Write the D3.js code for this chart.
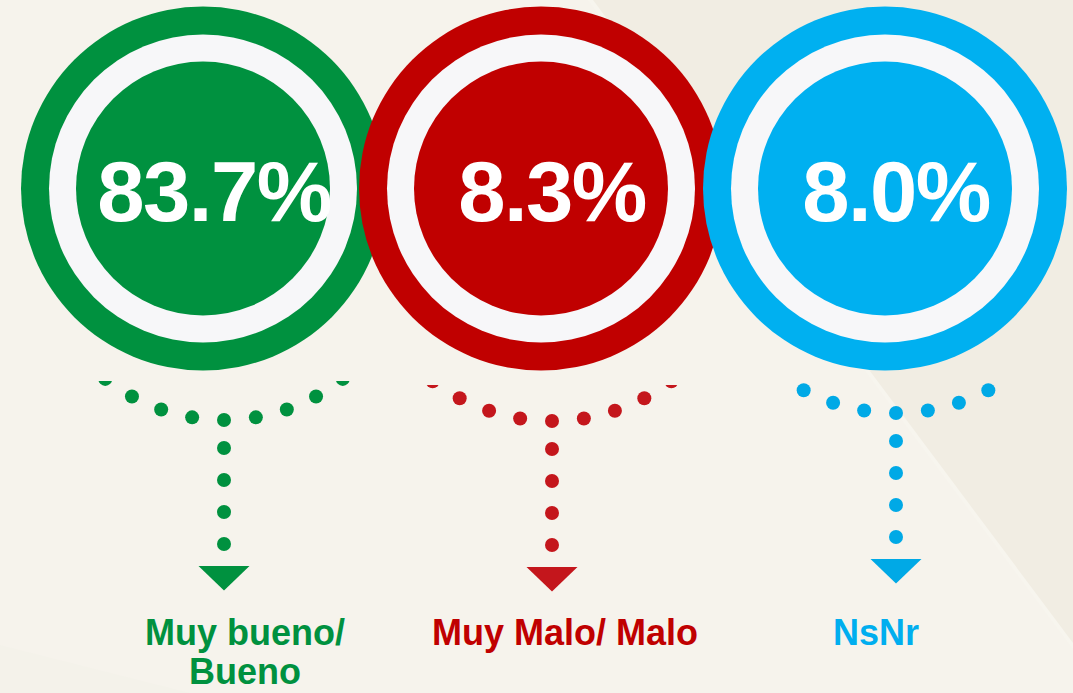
<!DOCTYPE html>
<html>
<head>
<meta charset="utf-8">
<script src="https://cdn.jsdelivr.net/npm/d3@7"></script>
<style>
  html, body { margin: 0; padding: 0; background: #f6f3ec; }
  svg { display: block; }
  text { font-family: "Liberation Sans", Arial, sans-serif; font-weight: bold; }
</style>
</head>
<body>
<script>

// data
var categories = ["Muy bueno/ Bueno", "Muy Malo/ Malo", "NsNr"];
var values = [83.7, 8.3, 8.0];
var labelLines = [["Muy bueno/", "Bueno"], ["Muy Malo/ Malo"], ["NsNr"]];
var ringColors = ["#00913f", "#c00000", "#00b0f0"];
var dotColors = ["#00913f", "#c4161c", "#00a9e6"];
var labelColors = ["#00913f", "#c00000", "#00aeef"];

var width = 1073,
    height = 693;

// layout
var circleX = d3.scaleOrdinal().domain(categories).range([203, 541, 885]),
    arrowX = d3.scaleOrdinal().domain(categories).range([224, 552, 896]),
    labelX = d3.scaleOrdinal().domain(categories).range([245, 565, 876]);

var arcBottom = d3.scaleOrdinal().domain(categories).range([420, 421, 413]),
    arcRadius = d3.scaleOrdinal().domain(categories).range([192, 199, 199]),
    arcSteps = d3.scaleOrdinal().domain(categories).range([4, 4, 3]),
    arcClip = d3.scaleOrdinal().domain(categories).range([381, 385, 0]);

var cy = 188.5,
    rOuter = 182,
    rWhite = 154,
    rInner = 127,
    dotR = 7,
    dotStep = 32;

var fmt = d3.format(".1f");

var svg = d3.select("body").append("svg")
    .attr("width", width)
    .attr("height", height);

// background with the soft diagonal shapes
svg.append("rect")
    .attr("width", width)
    .attr("height", height)
    .attr("fill", "#f6f3ec");

svg.append("polygon")
    .attr("points", [[588, 0], [width, 0], [width, 649]].join(" "))
    .attr("fill", "#f7f5ee");
svg.append("polygon")
    .attr("points", [[593, 0], [width, 0], [width, 643]].join(" "))
    .attr("fill", "#f1ede3");
svg.append("polygon")
    .attr("points", [[0, 645], [190, 693], [0, 693]].join(" "))
    .attr("fill", "#f4f2ea");

var defs = svg.append("defs");

var items = categories.map(function(c, i) {
    return {
        key: c,
        value: values[i],
        lines: labelLines[i],
        ring: ringColors[i],
        dot: dotColors[i],
        label: labelColors[i]
    };
});

// dotted connectors, under the circles
var conn = svg.selectAll(".connector")
    .data(items)
    .enter().append("g")
    .attr("class", "connector");

conn.each(function(d, i) {
    var g = d3.select(this);
    var ax = arrowX(d.key),
        bottom = arcBottom(d.key),
        R = arcRadius(d.key),
        n = arcSteps(d.key),
        ang = dotStep / R,
        acy = bottom - R;

    defs.append("clipPath")
        .attr("id", "clip" + i)
        .append("rect")
        .attr("x", 0)
        .attr("y", arcClip(d.key))
        .attr("width", width)
        .attr("height", height);

    var arcPts = d3.range(-n, n + 1).map(function(k) {
        return [ax + R * Math.sin(k * ang), acy + R * Math.cos(k * ang)];
    });

    g.append("g")
        .attr("clip-path", "url(#clip" + i + ")")
        .selectAll("circle")
        .data(arcPts)
        .enter().append("circle")
        .attr("cx", function(p) { return p[0]; })
        .attr("cy", function(p) { return p[1]; })
        .attr("r", dotR)
        .attr("fill", d.dot);

    var vPts = d3.range(1, 5).map(function(k) { return bottom - 4 + k * dotStep; });

    g.selectAll(".vdot")
        .data(vPts)
        .enter().append("circle")
        .attr("class", "vdot")
        .attr("cx", ax)
        .attr("cy", function(y) { return y; })
        .attr("r", dotR)
        .attr("fill", d.dot);

    var tTop = vPts[vPts.length - 1] + 22;
    g.append("path")
        .attr("d", "M" + (ax - 25.5) + "," + tTop +
                   "L" + (ax + 25.5) + "," + tTop +
                   "L" + ax + "," + (tTop + 24.5) + "Z")
        .attr("fill", d.dot);
});

// rings
var ring = svg.selectAll(".ring")
    .data(items)
    .enter().append("g")
    .attr("class", "ring")
    .attr("transform", function(d) { return "translate(" + circleX(d.key) + "," + cy + ")"; });

ring.append("circle")
    .attr("r", rOuter)
    .attr("fill", function(d) { return d.ring; });
ring.append("circle")
    .attr("r", rWhite)
    .attr("fill", "#f7f7f9");
ring.append("circle")
    .attr("r", rInner)
    .attr("fill", function(d) { return d.ring; });

ring.append("text")
    .attr("x", 11)
    .attr("y", 32)
    .attr("text-anchor", "middle")
    .attr("fill", "#ffffff")
    .style("font-size", "85px")
    .style("letter-spacing", "-1.5px")
    .text(function(d) { return fmt(d.value) + "%"; });

// labels
var lab = svg.selectAll(".label")
    .data(items)
    .enter().append("text")
    .attr("class", "label")
    .attr("text-anchor", "middle")
    .attr("fill", function(d) { return d.label; })
    .style("font-size", "36px");

lab.selectAll("tspan")
    .data(function(d) { return d.lines.map(function(l) { return {key: d.key, text: l}; }); })
    .enter().append("tspan")
    .attr("x", function(t) { return labelX(t.key); })
    .attr("y", function(t, j) { return 645 + j * 39; })
    .text(function(t) { return t.text; });

</script>
</body>
</html>
